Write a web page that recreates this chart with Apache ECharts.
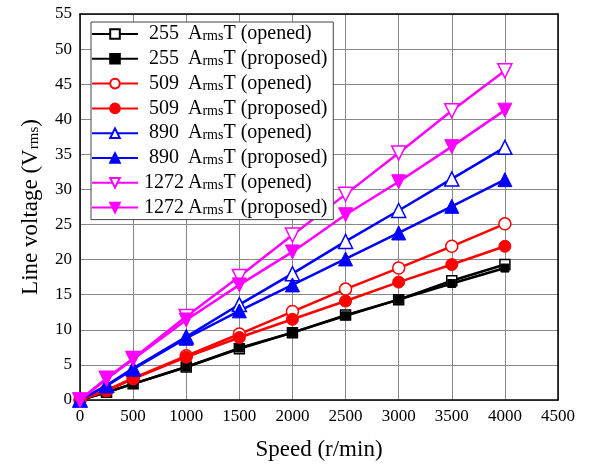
<!DOCTYPE html>
<html>
<head>
<meta charset="utf-8">
<script src="https://cdn.jsdelivr.net/npm/echarts@6/dist/echarts.min.js"></script>
<style>
  html, body { margin: 0; padding: 0; background: #fff; }
  #chart { width: 602px; height: 466px; }
</style>
</head>
<body>
<div id="chart"></div>
<script>
// speed points (r/min)
const speeds = [0, 250, 500, 1000, 1500, 2000, 2500, 3000, 3500, 4000];

// line voltage (Vrms)
const v255Opened   = [0, 1.1, 2.3, 4.7, 7.3, 9.6, 12.1, 14.3, 17.0, 19.3];
const v255Proposed = [0, 1.1, 2.3, 4.7, 7.4, 9.6, 12.0, 14.3, 16.6, 18.8];
const v509Opened   = [0, 1.4, 3.1, 6.3, 9.4, 12.6, 15.8, 18.8, 21.9, 25.1];
const v509Proposed = [0, 1.3, 3.0, 6.1, 8.9, 11.5, 14.1, 16.8, 19.3, 21.9];
const v890Opened   = [0, 2.1, 4.5, 9.0, 13.6, 18.0, 22.6, 27.0, 31.5, 36.0];
const v890Proposed = [0, 2.0, 4.4, 8.8, 12.7, 16.4, 20.1, 23.8, 27.6, 31.4];
const v1272Opened  = [0, 3.1, 5.9, 11.9, 17.6, 23.5, 29.3, 35.2, 41.2, 46.9];
const v1272Proposed= [0, 3.0, 5.8, 11.4, 16.4, 21.1, 26.4, 31.1, 36.1, 41.3];

const xTicks = [0, 500, 1000, 1500, 2000, 2500, 3000, 3500, 4000, 4500];

const invTri = 'path://M0,0 L10,0 L5,8.7 Z';

function pairs(vals) {
  return speeds.map((s, i) => [s, vals[i]]);
}

function mkSeries(name, vals, color, symbol, size, empty) {
  return {
    name: name,
    type: 'line',
    data: pairs(vals),
    symbol: symbol,
    symbolSize: size,
    showAllSymbol: true,
    lineStyle: { color: color, width: 2.5 },
    itemStyle: empty
      ? { color: '#fff', borderColor: color, borderWidth: 1.5 }
      : { color: color, borderColor: color, borderWidth: 1 },
    emphasis: { disabled: true }
  };
}

const seriesList = [
  mkSeries('255 ArmsT (opened)', v255Opened, '#000', 'rect', 10, true),
  mkSeries('255 ArmsT (proposed)', v255Proposed, '#000', 'rect', 8, false),
  mkSeries('509 ArmsT (opened)', v509Opened, '#ff0000', 'circle', 12, true),
  mkSeries('509 ArmsT (proposed)', v509Proposed, '#ff0000', 'circle', 12, false),
  mkSeries('890 ArmsT (opened)', v890Opened, '#0000ff', 'triangle', 14, true),
  mkSeries('890 ArmsT (proposed)', v890Proposed, '#0000ff', 'triangle', 14, false),
  mkSeries('1272 ArmsT (opened)', v1272Opened, '#ff00ff', invTri, 14, true),
  mkSeries('1272 ArmsT (proposed)', v1272Proposed, '#ff00ff', invTri, 14, false)
];

const font = '"Liberation Serif", "Times New Roman", serif';

const chart = echarts.init(document.getElementById('chart'), null, { renderer: 'canvas' });
chart.setOption({
  backgroundColor: '#fff',
  animation: false,
  textStyle: { fontFamily: font, color: '#000' },
  grid: { left: 80, right: 44, top: 14, bottom: 66 },
  legend: {
    orient: 'vertical',
    left: 91,
    top: 22,
    itemWidth: 46,
    itemHeight: 12,
    itemGap: 4.8,
    padding: [2, 6, 2, 0],
    borderColor: '#444',
    borderWidth: 1,
    backgroundColor: '#fff',
    selectedMode: false,
    data: seriesList.map(s => s.name),
    formatter: function (name) {
      const parts = name.split(' ');
      return '{n|' + parts[0] + '} {a|A}{s|rms}{a|T ' + parts.slice(2).join(' ') + '}';
    },
    textStyle: {
      fontFamily: font,
      rich: {
        n: { fontFamily: font, fontSize: 20, lineHeight: 20, width: 42, align: 'right', color: '#000' },
        a: { fontFamily: font, fontSize: 20, lineHeight: 20, color: '#000' },
        s: { fontFamily: font, fontSize: 14, lineHeight: 20, color: '#000', padding: [5, 0, 0, 0] }
      }
    }
  },
  xAxis: {
    type: 'value',
    min: 0,
    max: 4500,
    interval: 500,
    name: 'Speed (r/min)',
    nameLocation: 'middle',
    nameGap: 38,
    nameTextStyle: { fontFamily: font, fontSize: 23, color: '#000' },
    axisLine: { show: true, lineStyle: { color: '#000', width: 1.5 } },
    axisTick: { show: false },
    axisLabel: {
      fontFamily: font, fontSize: 17, color: '#000', margin: 8,
      formatter: v => xTicks.indexOf(v) >= 0 ? String(v) : ''
    },
    splitLine: { show: true, lineStyle: { color: '#888', width: 1 } }
  },
  yAxis: {
    type: 'value',
    min: 0,
    max: 55,
    interval: 5,
    name: '{a|Line voltage (V}{s|rms}{a|)}',
    nameLocation: 'middle',
    nameGap: 38,
    nameRotate: 90,
    nameTextStyle: {
      rich: {
        a: { fontFamily: font, fontSize: 23, color: '#000' },
        s: { fontFamily: font, fontSize: 15, color: '#000', padding: [8, 0, 0, 0] }
      }
    },
    axisLine: { show: true, lineStyle: { color: '#000', width: 1.5 } },
    axisTick: { show: false },
    axisLabel: { fontFamily: font, fontSize: 17, color: '#000', margin: 8 },
    splitLine: { show: true, lineStyle: { color: '#888', width: 1 } }
  },
  series: seriesList
});

// right and top border of the plot frame
chart.setOption({
  xAxis: [{}, { type: 'value', position: 'top', min: 0, max: 4500, axisLine: { show: true, onZero: false, lineStyle: { color: '#000', width: 1.5 } }, axisTick: { show: false }, axisLabel: { show: false }, splitLine: { show: false } }],
  yAxis: [{}, { type: 'value', position: 'right', min: 0, max: 55, axisLine: { show: true, onZero: false, lineStyle: { color: '#000', width: 1.5 } }, axisTick: { show: false }, axisLabel: { show: false }, splitLine: { show: false } }]
});
</script>
</body>
</html>
